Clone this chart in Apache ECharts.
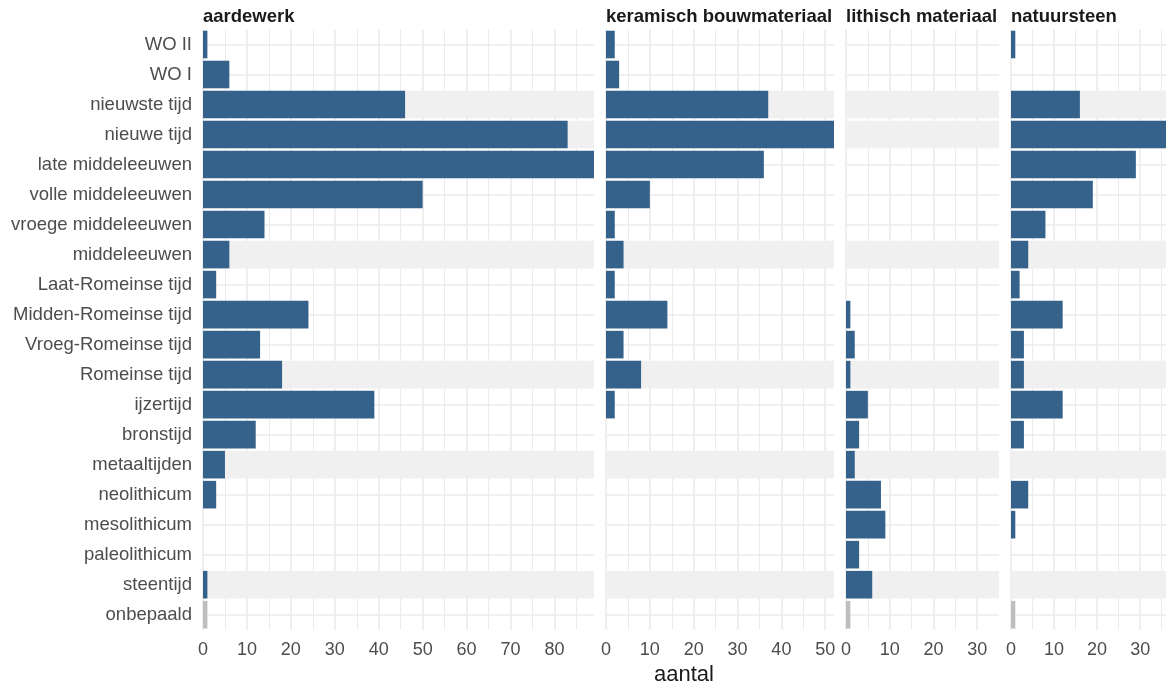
<!DOCTYPE html>
<html>
<head>
<meta charset="utf-8">
<script src="https://cdn.jsdelivr.net/npm/echarts@6/dist/echarts.min.js"></script>
<style>
html, body { margin: 0; padding: 0; background: #fff; }
#chart { width: 1169px; height: 689px; }
</style>
</head>
<body>
<div id="chart"></div>
<script>
// periodes, van jong naar oud (bovenaan eerst)
const periods = [
  "WO II", "WO I", "nieuwste tijd", "nieuwe tijd", "late middeleeuwen",
  "volle middeleeuwen", "vroege middeleeuwen", "middeleeuwen",
  "Laat-Romeinse tijd", "Midden-Romeinse tijd", "Vroeg-Romeinse tijd",
  "Romeinse tijd", "ijzertijd", "bronstijd", "metaaltijden", "neolithicum",
  "mesolithicum", "paleolithicum", "steentijd", "onbepaald"
];
// overkoepelende periodes krijgen een grijze band
const bandPeriods = ["nieuwste tijd", "nieuwe tijd", "middeleeuwen", "Romeinse tijd", "metaaltijden", "steentijd"];

const panelNames = ["aardewerk", "keramisch bouwmateriaal", "lithisch materiaal", "natuursteen"];
const aardewerk   = [1, 6, 46, 83, 89, 50, 14, 6, 3, 24, 13, 18, 39, 12, 5, 3, 0, 0, 1, 1];
const keramisch   = [2, 3, 37, 52, 36, 10, 2, 4, 2, 14, 4, 8, 2, 0, 0, 0, 0, 0, 0, 0];
const lithisch    = [0, 0, 0, 0, 0, 0, 0, 0, 0, 1, 2, 1, 5, 3, 2, 8, 9, 3, 6, 1];
const natuursteen = [1, 0, 16, 36, 29, 19, 8, 4, 2, 12, 3, 3, 12, 3, 0, 4, 1, 0, 0, 1];
const panelValues = [aardewerk, keramisch, lithisch, natuursteen];
const panelMax = [89, 52, 35, 36];

const font = "Liberation Sans, Arial, sans-serif";
const barColor = "#35628b";
const greyBar = "#bebebe";
const gridColor = "#ebebeb";

// layout van de panelen (px)
const panelLeft = [203, 606, 846, 1011];
const panelWidth = [391, 228, 153, null];
const gridTop = 29.5;
const gridBottom = 59.3;

const chart = echarts.init(document.getElementById("chart"));

const grids = [], xAxes = [], yAxes = [], series = [], titles = [];
panelNames.forEach((name, i) => {
  const g = { left: panelLeft[i], top: gridTop, bottom: gridBottom };
  if (panelWidth[i]) g.width = panelWidth[i]; else g.right = 0;
  grids.push(g);
  titles.push({
    text: name, left: panelLeft[i], top: 7, padding: 0,
    textStyle: { fontFamily: font, fontSize: 18.5, fontWeight: "bold", color: "#1a1a1a" },
  });
  xAxes.push({
    type: "value", gridIndex: i, min: 0, max: panelMax[i], interval: 10,
    axisLine: { show: false }, axisTick: { show: false },
    axisLabel: {
      color: "#4d4d4d", fontSize: 18, fontFamily: font, margin: 11,
      formatter: (v) => (v % 10 === 0 ? String(v) : ""),
    },
    splitLine: { show: false },
  });
  yAxes.push({
    type: "category", gridIndex: i, data: periods, inverse: true,
    axisLine: { show: false }, axisTick: { show: false }, splitLine: { show: false },
    axisLabel: {
      show: i === 0, color: "#4d4d4d", fontSize: 18.5, fontFamily: font, margin: 11,
    },
  });
  // rasterlijnen: verticaal om de 5 (dik om de 10), horizontaal per categorie
  const vLines = [];
  for (let v = 0; v < panelMax[i]; v += 5) {
    vLines.push({ xAxis: v, lineStyle: { width: v % 10 === 0 ? 1.6 : 1 } });
  }
  series.push({
    type: "line", xAxisIndex: i, yAxisIndex: i, data: [], silent: true,
    markLine: {
      z: 1, silent: true, symbol: ["none", "none"], label: { show: false },
      lineStyle: { color: gridColor, width: 1.6, type: "solid" },
      emphasis: { disabled: true },
      data: vLines.concat(periods.map((p) => ({ yAxis: p }))),
    },
  });
  series.push({
    type: "bar", xAxisIndex: i, yAxisIndex: i, silent: true, z: 2,
    barWidth: "92%", barGap: "-100%",
    itemStyle: { color: "#f0f0f0" },
    data: periods.map((p) => (bandPeriods.includes(p) ? panelMax[i] : null)),
  });
  series.push({
    type: "bar", xAxisIndex: i, yAxisIndex: i, z: 3,
    barWidth: "92%", barGap: "-100%",
    itemStyle: { color: (p) => (p.name === "onbepaald" ? greyBar : barColor) },
    data: panelValues[i].map((v) => (v === 0 ? null : v)),
  });
});

const option = {
  animation: false,
  backgroundColor: "#ffffff",
  title: titles,
  grid: grids,
  xAxis: xAxes,
  yAxis: yAxes,
  series: series,
  graphic: [{
    type: "text", left: 686 - 32, top: 664,
    style: { text: "aantal", fontFamily: font, fontSize: 22, fill: "#1a1a1a" },
  }],
};
chart.setOption(option);
</script>
</body>
</html>
